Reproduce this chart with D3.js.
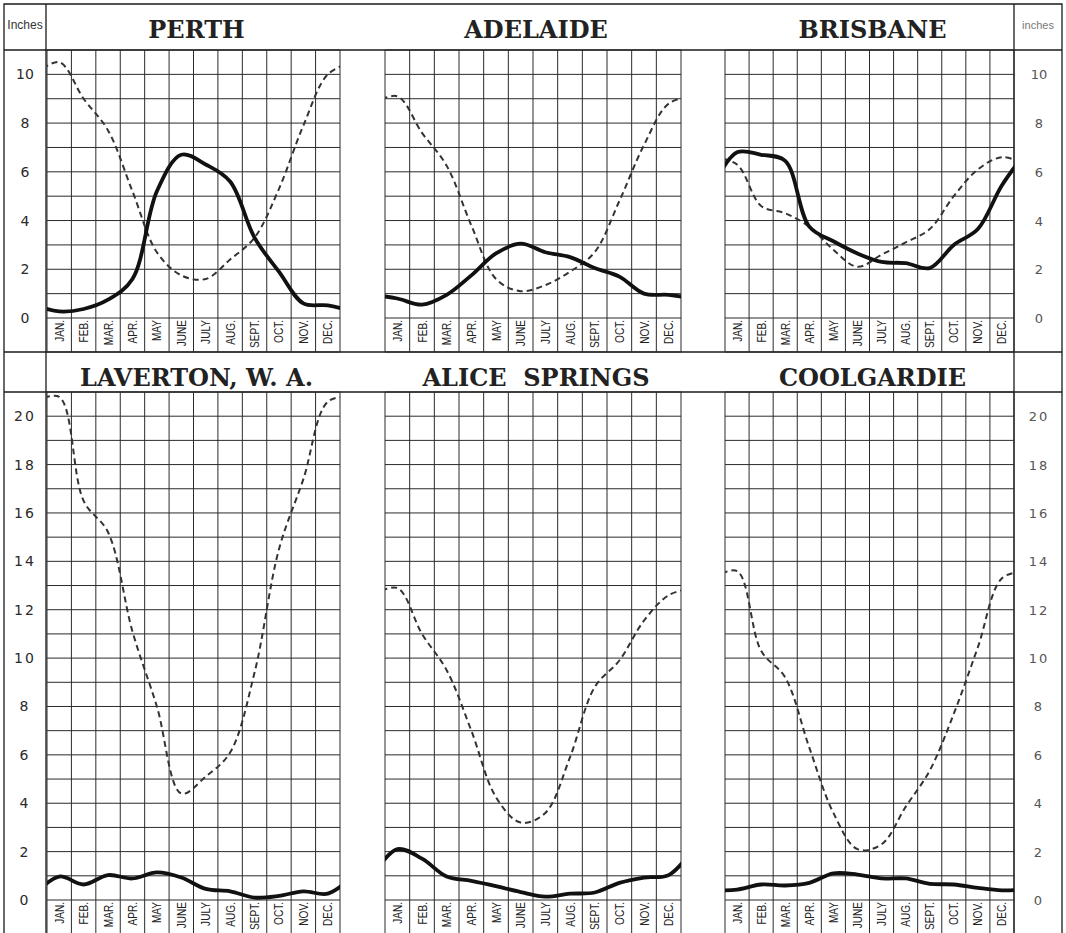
<!DOCTYPE html>
<html>
<head>
<meta charset="utf-8">
<script src="https://cdn.jsdelivr.net/npm/d3@7"></script>
<style>
  body { margin: 0; background: #fff; }
  text { white-space: pre; }
</style>
</head>
<body>
<svg id="chart"></svg>
<script>
// month cells and axis ticks
const months = ["JAN.", "FEB.", "MAR.", "APR.", "MAY", "JUNE", "JULY", "AUG.", "SEPT.", "OCT.", "NOV.", "DEC."];
const topTicks = [0, 2, 4, 6, 8, 10];
const bottomTicks = [0, 2, 4, 6, 8, 10, 12, 14, 16, 18, 20];
const stations = ["PERTH", "ADELAIDE", "BRISBANE", "LAVERTON, W. A.", "ALICE  SPRINGS", "COOLGARDIE"];

// rainfall (solid) and evaporation (dashed), inches per month
const perthRain = [0.27, 0.37, 0.75, 1.6, 5.2, 6.7, 6.3, 5.6, 3.3, 1.9, 0.6, 0.52];
const perthEvap = [10.5, 9.0, 7.7, 5.2, 2.7, 1.75, 1.6, 2.4, 3.3, 5.3, 7.9, 10.0];
const adelaideRain = [0.8, 0.55, 0.95, 1.75, 2.65, 3.05, 2.7, 2.5, 2.05, 1.7, 1.0, 0.95];
const adelaideEvap = [9.1, 7.6, 6.25, 3.8, 1.6, 1.1, 1.35, 1.9, 2.7, 4.8, 7.1, 8.8];
const brisbaneRain = [6.8, 6.7, 6.45, 3.75, 3.15, 2.65, 2.3, 2.25, 2.05, 3.0, 3.65, 5.45];
const brisbaneEvap = [6.3, 4.6, 4.3, 3.75, 2.8, 2.1, 2.6, 3.1, 3.65, 5.0, 6.1, 6.6];
const lavertonRain = [0.97, 0.64, 1.03, 0.89, 1.14, 0.93, 0.46, 0.36, 0.1, 0.17, 0.36, 0.26];
const lavertonEvap = [20.8, 16.5, 15.2, 11.1, 8.0, 4.4, 5.1, 6.1, 9.4, 14.5, 17.4, 20.6];
const aliceRain = [2.1, 1.71, 0.97, 0.79, 0.57, 0.33, 0.14, 0.26, 0.31, 0.71, 0.93, 1.03];
const aliceEvap = [12.9, 11.0, 9.5, 7.0, 4.25, 3.2, 3.6, 5.9, 8.8, 9.9, 11.55, 12.6];
const coolgardieRain = [0.43, 0.64, 0.6, 0.71, 1.1, 1.05, 0.89, 0.89, 0.67, 0.64, 0.5, 0.4];
const coolgardieEvap = [13.6, 10.3, 9.2, 6.3, 3.6, 2.1, 2.3, 3.85, 5.35, 7.7, 10.45, 13.3];

const W = 1066, H = 933;
const svg = d3.select("#chart").attr("width", W).attr("height", H);

const cols = [[47, 340], [385, 681], [725, 1014]];
const rows = [
  { top: 4, gridTop: 50, gridBottom: 318, cellBottom: 352, max: 11, ticks: topTicks, spacing: 0 },
  { top: 352, gridTop: 392, gridBottom: 900, cellBottom: 940, max: 21, ticks: bottomTicks, spacing: 2 }
];

const panels = [
  { name: stations[0], rain: perthRain, evap: perthEvap, row: 0, col: 0 },
  { name: stations[1], rain: adelaideRain, evap: adelaideEvap, row: 0, col: 1 },
  { name: stations[2], rain: brisbaneRain, evap: brisbaneEvap, row: 0, col: 2 },
  { name: stations[3], rain: lavertonRain, evap: lavertonEvap, row: 1, col: 0 },
  { name: stations[4], rain: aliceRain, evap: aliceEvap, row: 1, col: 1 },
  { name: stations[5], rain: coolgardieRain, evap: coolgardieEvap, row: 1, col: 2 }
];

const ink = "#1a1a1a";

// frame and the long rules
const frame = svg.append("g").attr("stroke", ink).attr("stroke-width", 1.3).attr("fill", "none");
frame.append("path").attr("d", `M4,${H} V4 H1062 V${H}`);
frame.append("line").attr("x1", 46).attr("x2", 46).attr("y1", 4).attr("y2", H);
frame.append("line").attr("x1", 1014).attr("x2", 1014).attr("y1", 4).attr("y2", H);
[50, 352, 392].forEach(y => {
  frame.append("line").attr("x1", 4).attr("x2", 1062).attr("y1", y).attr("y2", y);
});

svg.append("text").attr("x", 25).attr("y", 29).attr("text-anchor", "middle")
  .attr("font-family", "Liberation Sans Narrow, Liberation Sans, sans-serif")
  .attr("font-size", 12).attr("fill", "#333").text("Inches");
svg.append("text").attr("x", 1038).attr("y", 29).attr("text-anchor", "middle")
  .attr("font-family", "Liberation Sans Narrow, Liberation Sans, sans-serif")
  .attr("font-size", 11).attr("fill", "#777").text("inches");

// value labels in the side columns
rows.forEach(r => {
  const y = d3.scaleLinear().domain([0, r.max]).range([r.gridBottom, r.gridTop]);
  [25, 1039].forEach((cx, k) => {
    svg.append("g").selectAll("text")
      .data(r.ticks)
      .join("text")
      .attr("x", cx)
      .attr("y", d => y(d) + 5)
      .attr("text-anchor", "middle")
      .attr("font-family", "DejaVu Sans, sans-serif")
      .attr("font-size", k === 0 ? 14 : 13)
      .attr("letter-spacing", r.spacing)
      .attr("fill", k === 0 ? "#2a2a2a" : "#555")
      .text(d => d);
  });
});

panels.forEach((p, pi) => {
  const r = rows[p.row];
  const [x0, x1] = cols[p.col];
  const x = d3.scaleLinear().domain([0, 12]).range([x0, x1]);
  const y = d3.scaleLinear().domain([0, r.max]).range([r.gridBottom, r.gridTop]);
  const g = svg.append("g");

  // title
  g.append("text")
    .attr("x", (x0 + x1) / 2 + 3)
    .attr("y", r.top + 34)
    .attr("text-anchor", "middle")
    .attr("font-family", "DejaVu Serif, serif")
    .attr("font-weight", "bold")
    .attr("font-size", 24)
    .attr("fill", "#222")
    .text(p.name);

  // grid
  const grid = g.append("g").attr("stroke", "#2b2b2b").attr("stroke-width", 1);
  grid.selectAll(".h")
    .data(d3.range(0, r.max + 1))
    .join("line")
    .attr("x1", x0).attr("x2", x1)
    .attr("y1", d => y(d)).attr("y2", d => y(d));
  grid.selectAll(".v")
    .data(d3.range(0, 13))
    .join("line")
    .attr("x1", d => x(d)).attr("x2", d => x(d))
    .attr("y1", r.gridTop).attr("y2", Math.min(r.cellBottom, H));
  grid.append("line")
    .attr("x1", x0).attr("x2", x1)
    .attr("y1", r.cellBottom).attr("y2", r.cellBottom);

  // month names, rotated in their cells (squeezed along the text)
  g.append("g").selectAll("text")
    .data(months)
    .join("text")
    .attr("transform", (d, i) => `translate(${x(i + 0.5) + 4.5},${r.gridBottom + 2}) rotate(-90) scale(0.84,1)`)
    .attr("text-anchor", "end")
    .attr("font-family", "Liberation Sans, sans-serif")
    .attr("font-size", 12)
    .attr("fill", "#222")
    .text(d => d);

  // curves: monthly values at cell centres, wrapped round the year and clipped
  const clipId = "clip" + pi;
  svg.append("clipPath").attr("id", clipId)
    .append("rect")
    .attr("x", x0).attr("y", r.gridTop)
    .attr("width", x1 - x0).attr("height", r.gridBottom - r.gridTop);

  const wrap = vals => [[-1, vals[11]], ...vals.map((v, i) => [i, v]), [12, vals[0]]];
  const line = d3.line()
    .x(d => x(d[0] + 0.5))
    .y(d => y(d[1]))
    .curve(d3.curveCatmullRom.alpha(0.5));

  const plot = g.append("g").attr("clip-path", `url(#${clipId})`).attr("fill", "none");
  plot.append("path")
    .attr("d", line(wrap(p.evap)))
    .attr("stroke", "#333")
    .attr("stroke-width", 2)
    .attr("stroke-dasharray", "6 4");
  plot.append("path")
    .attr("d", line(wrap(p.rain)))
    .attr("stroke", "#111")
    .attr("stroke-width", 3.8)
    .attr("stroke-linecap", "round");
});
</script>
</body>
</html>
